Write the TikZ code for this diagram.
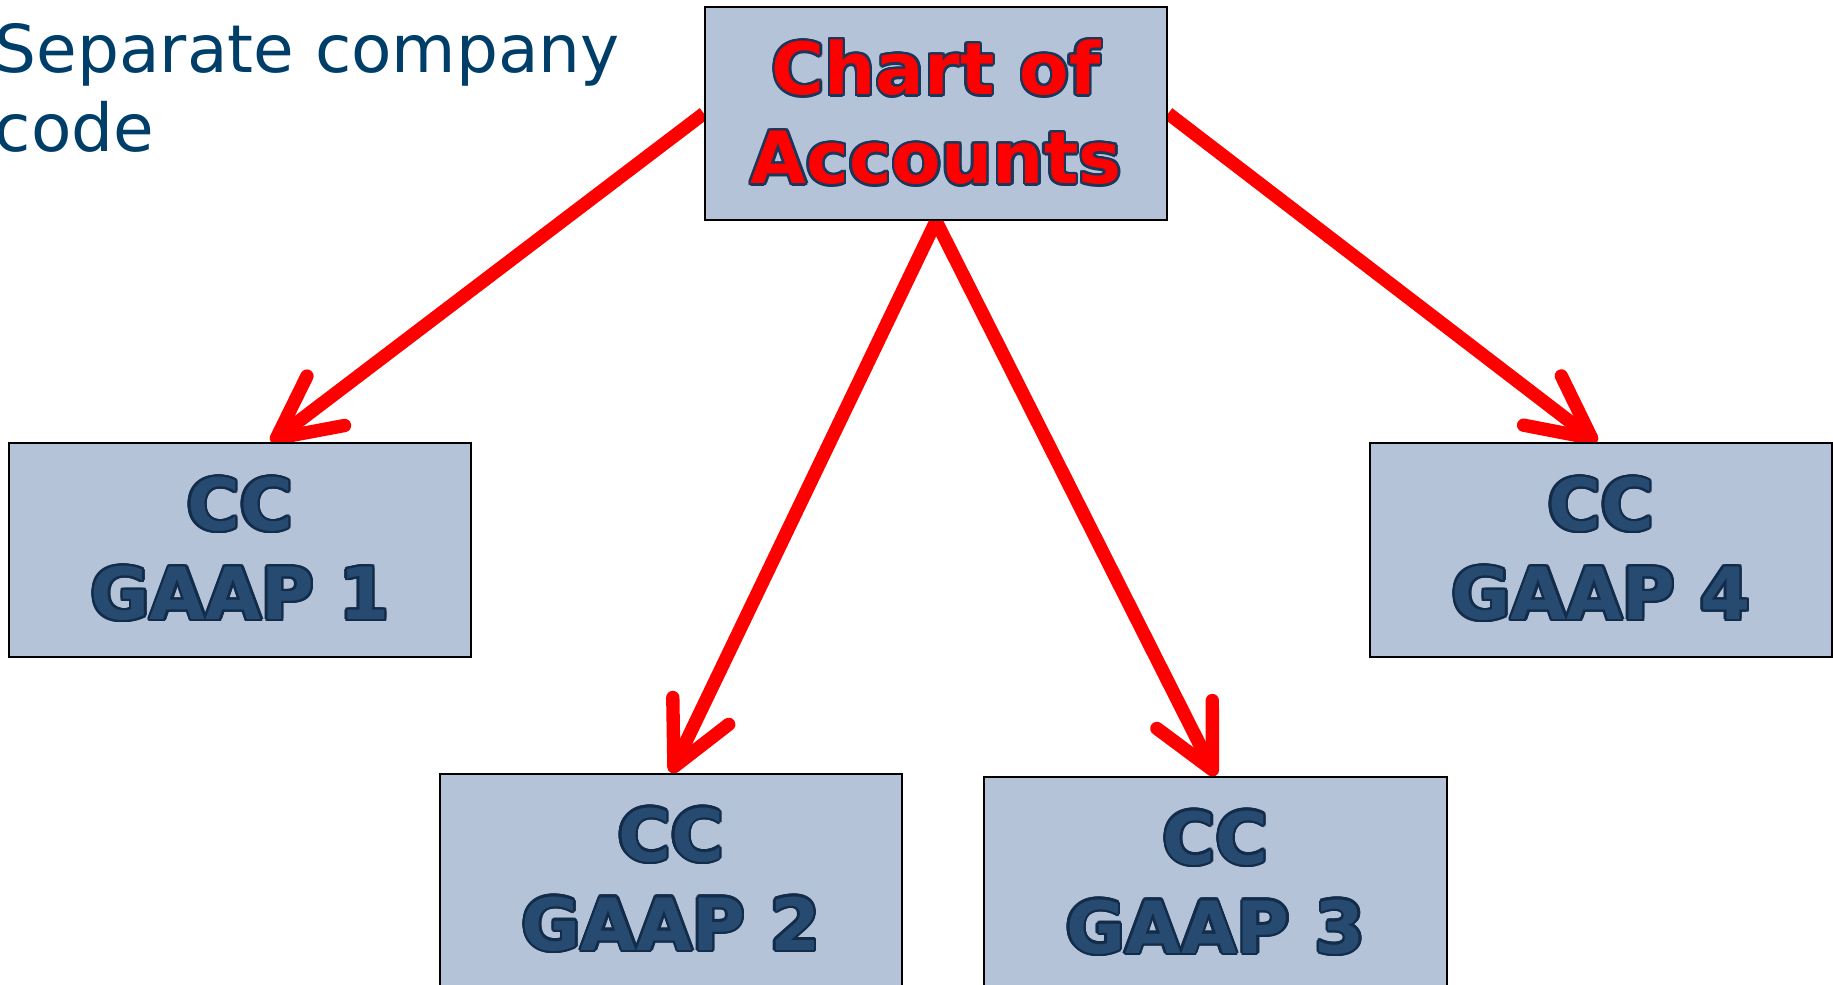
\documentclass[tikz,border=0pt]{standalone}
\usepackage{fontspec}
\setmainfont{DejaVu Sans}
\newfontfamily\notefont{DejaVu Sans}
\usepackage[copies]{contour}
\usetikzlibrary{arrows.meta,backgrounds}

\definecolor{boxfill}{RGB}{180,195,216}
\definecolor{notecol}{RGB}{0,62,106}
\definecolor{ccfill}{RGB}{38,74,112}
\definecolor{ccedge}{RGB}{18,44,74}
\definecolor{titleedge}{RGB}{25,55,90}

\contourlength{0.7pt}

\begin{document}
\begin{tikzpicture}[x=0.01cm, y=-0.01cm,
  box/.style={draw=black, line width=0.6pt, fill=boxfill,
    minimum width=4.62cm, minimum height=2.13cm, inner sep=0pt,
    align=center, font=\bfseries\fontsize{20.5}{25.3}\selectfont},
  titletext/.style={text=red},
  cctext/.style={text=ccfill},
  link/.style={draw=red, line width=3.8pt,
    -{Straight Barb[length=6.2mm, width=6.2mm, round]}}
]
\useasboundingbox (0,0) rectangle (1833,985);

% side note (base anchor sits on the last line)
\node[anchor=base west, inner sep=0pt, align=left, text=notecol,
  font=\notefont\fontsize{18.8}{22.5}\selectfont] (note) at (-6,152)
  {Separate company\\code};

% chart of accounts and the four company codes
\node[box, titletext] (coa) at (936,113.5)
  {\contour{titleedge}{Chart of}\\\contour{titleedge}{Accounts}};
\node[box, cctext] (cc1) at (240,550)
  {\contour{ccedge}{CC}\\\contour{ccedge}{GAAP 1}};
\node[box, cctext] (cc2) at (671,880.5)
  {\contour{ccedge}{CC}\\\contour{ccedge}{GAAP 2}};
\node[box, cctext] (cc3) at (1215.5,883.5)
  {\contour{ccedge}{CC}\\\contour{ccedge}{GAAP 3}};
\node[box, cctext] (cc4) at (1601,550)
  {\contour{ccedge}{CC}\\\contour{ccedge}{GAAP 4}};

% links behind the boxes
\begin{scope}[on background layer]
  \draw[link] (coa.west) -- ([xshift=0.31cm]cc1.north);
  \draw[link] (coa.south) -- (cc2.north);
  \draw[link] (coa.south) -- (cc3.north);
  \draw[link] (coa.east) -- ([xshift=-0.04cm]cc4.north);
\end{scope}
\end{tikzpicture}
\end{document}
